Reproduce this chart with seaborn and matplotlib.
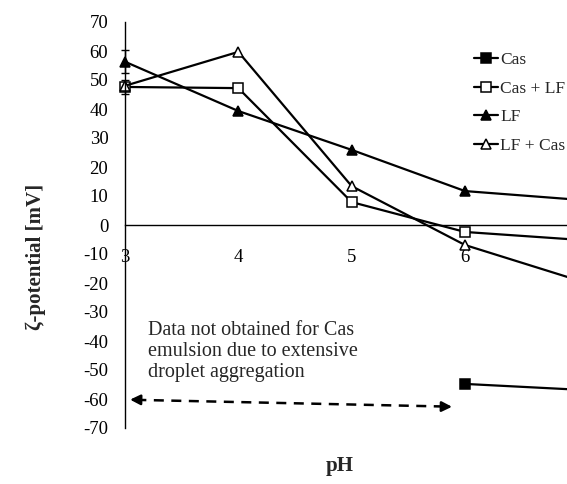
import matplotlib
matplotlib.use("Agg")
import matplotlib.pyplot as plt
import seaborn as sns
import numpy as np

sns.set_style("white")
plt.rcParams['font.family'] = ['Liberation Serif', 'DejaVu Serif']

# ---- data ----
ph_all = [3, 4, 5, 6, 7]
cas_ph = [6, 7]
cas_zeta = [-54.8, -56.8]
caslf_zeta = [47.6, 47.2, 7.9, -2.4, -5.1]
lf_zeta = [56.3, 39.3, 25.9, 11.7, 8.7]
lfcas_zeta = [48.0, 59.7, 13.4, -6.9, -19.1]
err_ph = [3, 3]
err_vals = [56.3, 47.6]
err_sizes = [4.0, 2.5]
labels = ["Cas", "Cas + LF", "LF", "LF + Cas"]
xticks = [3, 4, 5, 6]
yticks = list(range(-70, 71, 10))
note = "Data not obtained for Cas\nemulsion due to extensive\ndroplet aggregation"

W, H = 567, 484
fig = plt.figure(figsize=(W / 100, H / 100), dpi=100)
ax = fig.add_axes([125 / W, 1 - 428 / H, 442 / W, 406 / H])

common = dict(color="black", lw=1.6, markersize=7.5, markeredgewidth=1.1,
              markeredgecolor="black", clip_on=False, ax=ax)
sns.lineplot(x=cas_ph, y=cas_zeta, marker="s", markerfacecolor="black", label=labels[0], **common)
sns.lineplot(x=ph_all, y=caslf_zeta, marker="s", markerfacecolor="white", label=labels[1], **common)
sns.lineplot(x=ph_all, y=lf_zeta, marker="^", markerfacecolor="black", label=labels[2], **common)
sns.lineplot(x=ph_all, y=lfcas_zeta, marker="^", markerfacecolor="white", label=labels[3], **common)

ax.errorbar(err_ph, err_vals, yerr=err_sizes, fmt="none", ecolor="black",
            elinewidth=1.0, capsize=3, capthick=1.0, clip_on=False, zorder=1)

ax.set_xlim(3, 6.9)
ax.set_ylim(-70, 70)
ax.set_xticks(xticks)
ax.set_yticks(yticks)
ax.set_xticklabels([str(t) for t in xticks])
ax.set_yticklabels([str(t) for t in yticks])

for s in ["top", "right"]:
    ax.spines[s].set_visible(False)
ax.spines["bottom"].set_position(("data", 0))
for s in ["left", "bottom"]:
    ax.spines[s].set_color("black")
    ax.spines[s].set_linewidth(1.0)

ax.tick_params(axis="x", direction="out", length=5, width=1.0, pad=12, labelsize=13.5, colors="black")
ax.tick_params(axis="y", direction="out", length=4, width=1.0, pad=8, labelsize=13.5, colors="black")

ax.set_xlabel("pH", fontsize=15, fontweight="bold")
ax.set_ylabel("ζ-potential [mV]", fontsize=15, fontweight="bold")
ax.xaxis.set_label_coords((340 - 125) / 442, (428 - 466) / 406)
ax.xaxis.label.set_va("center")
ax.yaxis.set_label_coords((36 - 125) / 442, (428 - 257) / 406)
ax.yaxis.label.set_va("center")

# note text and dashed double arrow
ax.text(3.2, -33.2, note, fontsize=14.5, va="top", ha="left", linespacing=1.12)
ax.plot([3.1, 5.83], [-60.3, -62.6], ls=(0, (4, 3)), color="black", lw=1.8)
ax.annotate("", xy=(3.02, -60.2), xytext=(3.15, -60.3),
            arrowprops=dict(arrowstyle="-|>,head_length=0.6,head_width=0.3", color="black", lw=1.8))
ax.annotate("", xy=(5.91, -62.7), xytext=(5.78, -62.6),
            arrowprops=dict(arrowstyle="-|>,head_length=0.6,head_width=0.3", color="black", lw=1.8))

leg = ax.legend(loc="upper left", bbox_to_anchor=(474 / W, 1 - 52 / H),
                bbox_transform=fig.transFigure, frameon=False, fontsize=12.5,
                handlelength=1.4, handletextpad=0.1, labelspacing=0.72,
                borderpad=0, borderaxespad=0)

fig.savefig("out.png", dpi=100)
